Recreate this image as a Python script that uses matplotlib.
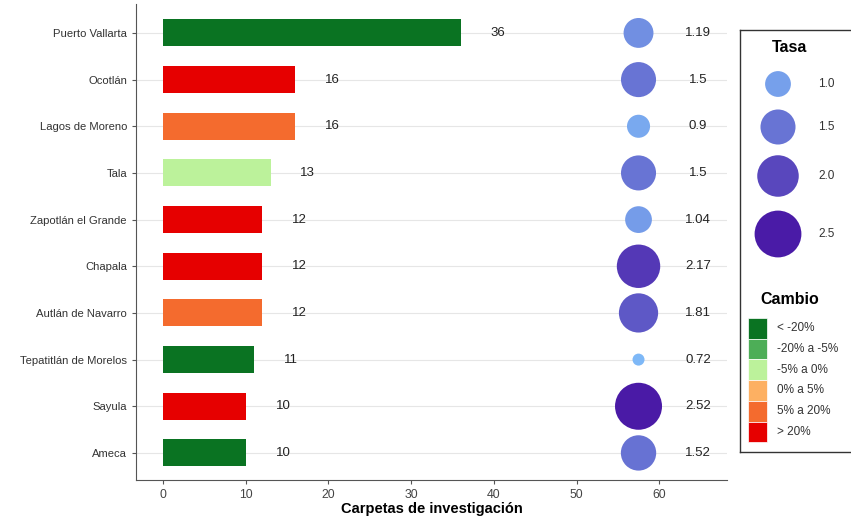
import numpy as np
import matplotlib
matplotlib.use("Agg")
from matplotlib import pyplot as plt
from matplotlib.colors import LinearSegmentedColormap
from matplotlib.patches import Rectangle

plt.rcParams['font.family'] = ['Liberation Sans', 'DejaVu Sans']

municipios = ["Puerto Vallarta", "Ocotlán", "Lagos de Moreno", "Tala", "Zapotlán el Grande",
              "Chapala", "Autlán de Navarro", "Tepatitlán de Morelos", "Sayula", "Ameca"]
carpetas = [36, 16, 16, 13, 12, 12, 12, 11, 10, 10]
tasa = [1.19, 1.5, 0.9, 1.5, 1.04, 2.17, 1.81, 0.72, 2.52, 1.52]
tasa_txt = ["1.19", "1.5", "0.9", "1.5", "1.04", "2.17", "1.81", "0.72", "2.52", "1.52"]
cambio = ["< -20%", "> 20%", "5% a 20%", "-5% a 0%", "> 20%",
          "> 20%", "5% a 20%", "< -20%", "> 20%", "< -20%"]

cambio_niveles = ["< -20%", "-20% a -5%", "-5% a 0%", "0% a 5%", "5% a 20%", "> 20%"]
cambio_colores = ["#0a7322", "#4dae57", "#bcf29b", "#fdb062", "#f46b2e", "#e60000"]
tasa_leyenda = [1.0, 1.5, 2.0, 2.5]

col_map = dict(zip(cambio_niveles, cambio_colores))
cmap = LinearSegmentedColormap.from_list("tasa", ["#7eb8f7", "#4a1aa6"])
vmin, vmax = min(tasa), max(tasa)


def tasa_t(v):
    return np.clip((np.asarray(v) - vmin) / (vmax - vmin), 0, 1)


def tasa_size(v):
    # ggplot-like area scale: diameter in px between 12 and 47
    d_px = 12 + 35 * np.sqrt(tasa_t(v))
    return (d_px * 0.72) ** 2


fig = plt.figure(figsize=(8.51, 5.19), dpi=100)
ax = fig.add_axes([136 / 851, 1 - 480 / 519, (727 - 136) / 851, (480 - 4) / 519])

y = np.arange(len(municipios))
ax.barh(y, carpetas, height=0.58, color=[col_map[c] for c in cambio], zorder=2)
for yi, v in zip(y, carpetas):
    ax.text(v + 4.5, yi, str(v), ha='center', va='center', fontsize=9.5, color='#222222')

ax.scatter([57.5] * len(y), y, s=tasa_size(tasa), c=cmap(tasa_t(tasa)), linewidths=0, zorder=3)
for yi, t in zip(y, tasa_txt):
    ax.text(64.7, yi, t, ha='center', va='center', fontsize=9.5, color='#222222')

ax.set_yticks(y)
ax.set_yticklabels(municipios, fontsize=8.1, color='#333333')
ax.set_ylim(len(y) - 0.42, -0.62)
ax.set_xlim(-3.27, 68.2)
ax.set_xticks([0, 10, 20, 30, 40, 50, 60])
ax.tick_params(axis='x', labelsize=8.8, labelcolor='#444444', color='#555555', length=3)
ax.tick_params(axis='y', color='#555555', length=3)
ax.set_xlabel("Carpetas de investigación", fontsize=10.5, fontweight='bold', labelpad=1)
ax.grid(axis='y', color='#e6e6e6', linewidth=0.8, zorder=0)
for s in ['top', 'right']:
    ax.spines[s].set_visible(False)
for s in ['left', 'bottom']:
    ax.spines[s].set_color('#555555')

# legend panel
lg = fig.add_axes([740 / 851, 1 - 452 / 519, 130 / 851, 422 / 519])
lg.set_xlim(0, 130)
lg.set_ylim(422, 0)
lg.set_xticks([])
lg.set_yticks([])
for s in lg.spines.values():
    s.set_color('#333333')
    s.set_linewidth(1)

lg.text(50, 18, "Tasa", ha='center', va='center', fontsize=11.5, fontweight='bold')
ly = [54, 97, 146, 204]
lg.scatter([38] * 4, ly, s=tasa_size(tasa_leyenda), c=cmap(tasa_t(tasa_leyenda)), linewidths=0)
for yy, v in zip(ly, tasa_leyenda):
    lg.text(78, yy, f"{v:.1f}", ha='left', va='center', fontsize=8.5, color='#333333')

lg.text(50, 270, "Cambio", ha='center', va='center', fontsize=11.5, fontweight='bold')
for i, (lab, col) in enumerate(zip(cambio_niveles, cambio_colores)):
    y0 = 288 + i * 20.7
    lg.add_patch(Rectangle((8, y0), 19, 20.7, facecolor=col, edgecolor='white', linewidth=0.5))
    lg.text(37, y0 + 10.3, lab, ha='left', va='center', fontsize=8.5, color='#333333')

fig.savefig("out.png", dpi=100)
